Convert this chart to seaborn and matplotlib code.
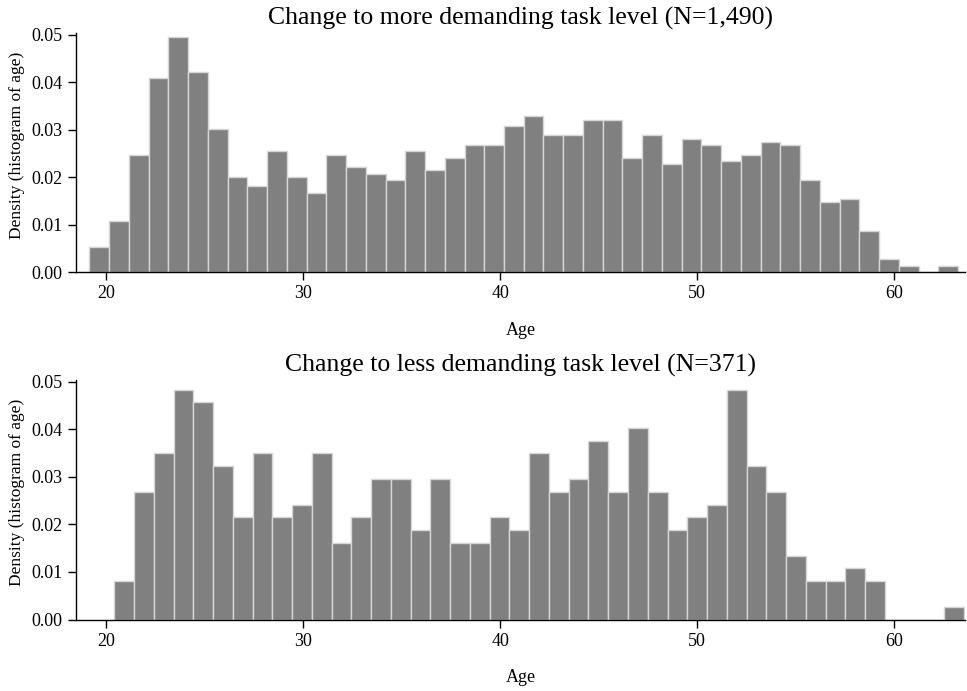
import numpy as np
import pandas as pd
import matplotlib
matplotlib.use("Agg")
import matplotlib.pyplot as plt
import seaborn as sns

sns.set_theme(style="ticks")
plt.rcParams["font.family"] = ["Liberation Serif", "DejaVu Serif"]
plt.rcParams["text.color"] = "black"
plt.rcParams["axes.labelcolor"] = "black"
plt.rcParams["xtick.color"] = "black"
plt.rcParams["ytick.color"] = "black"

# Age histograms, binned at roughly one-year intervals between min and max age
more_title = "Change to more demanding task level (N=1,490)"
less_title = "Change to less demanding task level (N=371)"

more_age_range = [19.14, 63.25]
more_counts = [8, 16, 37, 61, 74, 63, 45, 30, 27, 38, 30, 25, 37, 33, 31, 29,
               38, 32, 36, 40, 40, 46, 49, 43, 43, 48, 48, 36, 43, 34, 42, 40,
               35, 37, 41, 40, 29, 22, 23, 13, 4, 2, 0, 2]

less_age_range = [20.41, 63.54]
less_counts = [3, 10, 13, 18, 17, 12, 8, 13, 8, 9, 13, 6, 8, 11, 11, 7, 11,
               6, 6, 8, 7, 13, 10, 11, 14, 10, 15, 10, 7, 8, 9, 18, 12, 10,
               5, 3, 3, 4, 3, 0, 0, 0, 1]

x_ticks = [20, 30, 40, 50, 60]
y_ticks = [0.00, 0.01, 0.02, 0.03, 0.04, 0.05]

fig = plt.figure(figsize=(9.67, 6.91), dpi=100)
W, H = 967, 691
ax_top = fig.add_axes([76 / W, 1 - 272 / H, (965 - 76) / W, (272 - 33) / H])
ax_bot = fig.add_axes([76 / W, 1 - 619.5 / H, (965 - 76) / W, (619.5 - 380) / H])


def draw(ax, age_range, counts, title):
    edges = np.linspace(age_range[0], age_range[1], len(counts) + 1)
    df = pd.DataFrame({"age": (edges[:-1] + edges[1:]) / 2,
                       "n": np.asarray(counts, dtype=float)})
    sns.histplot(data=df, x="age", weights="n", bins=list(edges),
                 stat="density", color="#808080", alpha=1.0,
                 edgecolor="#d6d6d6", linewidth=1.0, ax=ax)
    ax.set_xlim(18.46, 63.6)
    ax.set_ylim(0, 0.0504)
    ax.set_xticks(x_ticks)
    ax.set_yticks(y_ticks)
    ax.set_yticklabels([f"{v:.2f}" for v in y_ticks])
    ax.set_xlabel("Age", fontsize=13, labelpad=14)
    ax.set_ylabel("Density (histogram of age)", fontsize=12.5)
    ax.yaxis.set_label_coords(-0.057, 0.53)
    ax.set_title(title, fontsize=18.5, pad=6)
    ax.tick_params(axis="both", labelsize=13, length=6, width=1)
    for s in ("left", "bottom"):
        ax.spines[s].set_color("black")
        ax.spines[s].set_linewidth(1)
    sns.despine(ax=ax)


draw(ax_top, more_age_range, more_counts, more_title)
draw(ax_bot, less_age_range, less_counts, less_title)

fig.savefig("out.png", dpi=100)
